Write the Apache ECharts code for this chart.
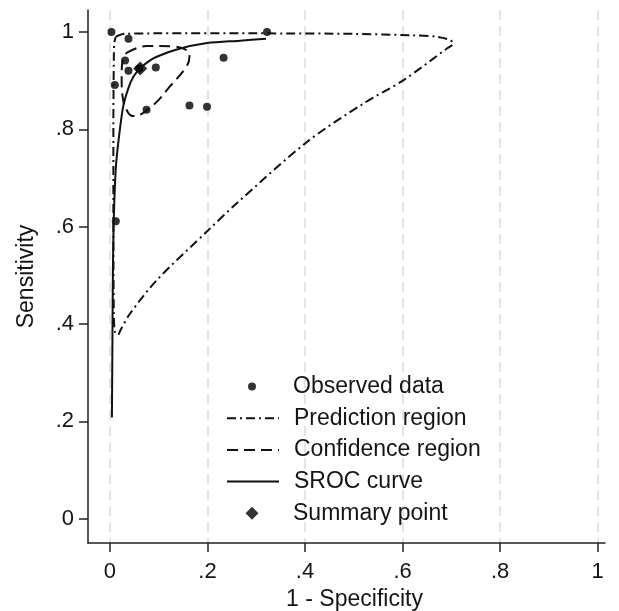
<!DOCTYPE html>
<html>
<head>
<meta charset="utf-8">
<script src="https://cdn.jsdelivr.net/npm/echarts@6/dist/echarts.min.js"></script>
<style>
html,body{margin:0;padding:0;background:#fff;}
#chart{width:619px;height:611px;}
</style>
</head>
<body>
<div id="chart"></div>
<script>
// Tick labels
const xTicks = [0, 0.2, 0.4, 0.6, 0.8, 1];
const yTicks = [0, 0.2, 0.4, 0.6, 0.8, 1];

// Legend entries (top to bottom)
const legendNames = ['Observed data', 'Prediction region', 'Confidence region', 'SROC curve', 'Summary point'];

// Observed data (1 - specificity, sensitivity)
const observedX = [0.003, 0.038, 0.031, 0.038, 0.094, 0.010, 0.075, 0.163, 0.199, 0.233, 0.322, 0.012, 0.060];
const observedY = [1.000, 0.986, 0.941, 0.920, 0.927, 0.891, 0.840, 0.849, 0.846, 0.947, 1.000, 0.611, 0.925];

// Summary point
const summaryX = [0.062];
const summaryY = [0.925];

// SROC curve
const srocX = [0.004, 0.005, 0.006, 0.008, 0.012, 0.018, 0.027, 0.038, 0.048, 0.062, 0.080, 0.096, 0.137, 0.199, 0.267, 0.320];
const srocY = [0.208, 0.350, 0.500, 0.620, 0.720, 0.780, 0.846, 0.885, 0.908, 0.925, 0.940, 0.949, 0.964, 0.977, 0.982, 0.986];

// Confidence region
const confX = [0.034, 0.075, 0.130, 0.158, 0.163, 0.157, 0.123, 0.089, 0.048, 0.038, 0.027, 0.024, 0.025, 0.034];
const confY = [0.957, 0.971, 0.970, 0.962, 0.949, 0.929, 0.888, 0.850, 0.827, 0.833, 0.860, 0.908, 0.935, 0.957];

// Prediction region
const predX = [0.012, 0.030, 0.100, 0.300, 0.500, 0.620, 0.671, 0.698, 0.704, 0.691, 0.602, 0.520, 0.404, 0.260, 0.202, 0.096, 0.041, 0.022, 0.016, 0.010, 0.008, 0.007, 0.007, 0.008, 0.009, 0.012];
const predY = [0.990, 0.996, 0.997, 0.997, 0.996, 0.993, 0.990, 0.983, 0.976, 0.966, 0.901, 0.853, 0.774, 0.648, 0.593, 0.490, 0.421, 0.388, 0.377, 0.385, 0.420, 0.600, 0.800, 0.950, 0.978, 0.990];

const zip = (a, b) => a.map((v, i) => [v, b[i]]);
const fmt = v => (v === 0 ? '0' : v === 1 ? '1' : String(v).replace(/^0/, ''));
const FONT = 'Liberation Sans, Arial, Helvetica, sans-serif';
const TXT = '#151515';
const FS = 22;
const FS_T = 23;

// legend layout (one component per row, so icons can differ in size)
const rowTop = 373.5, rowStep = 31.7, textLeft = 293, iconCenter = 252;
const iconSizes = [[8, 8], [52, 12], [52, 12], [52, 12], [13, 13]];
const legends = legendNames.map((name, i) => {
  const [w, h] = iconSizes[i];
  const left = iconCenter - w / 2;
  const item = {name};
  if (i === 0) item.icon = 'circle';
  if (i === 4) item.icon = 'diamond';
  if (i >= 1 && i <= 3) item.itemStyle = {opacity: 0};
  return {
    orient: 'vertical', left: left, top: rowTop + i * rowStep, padding: 0,
    itemWidth: w, itemHeight: h, selectedMode: false,
    textStyle: {fontFamily: FONT, fontSize: FS_T, color: TXT, lineHeight: 26,
      padding: [0, 0, 0, textLeft - (left + w + 5)]},
    data: [item]
  };
});

const chart = echarts.init(document.getElementById('chart'), null, {renderer: 'canvas'});
chart.setOption({
  animation: false,
  backgroundColor: '#fff',
  grid: {left: 88, top: 10, right: 14, bottom: 68, containLabel: false, outerBoundsMode: 'none'},
  xAxis: {
    type: 'value', min: -0.045, max: 1.015,
    name: '1 - Specificity', nameLocation: 'middle', nameGap: 45,
    nameTextStyle: {fontFamily: FONT, fontSize: FS_T, color: TXT, padding: [0, 0, 0, 16]},
    axisLine: {show: true, onZero: false, lineStyle: {color: '#222', width: 1.5}},
    axisTick: {show: true, customValues: xTicks, length: 9, lineStyle: {color: '#222', width: 1.5}},
    axisLabel: {customValues: xTicks, formatter: fmt, margin: 18, fontFamily: FONT, fontSize: FS, color: TXT},
    splitLine: {show: true, lineStyle: {color: '#dcdcdc', type: [10, 6], width: 1.5}}
  },
  yAxis: {
    type: 'value', min: -0.05, max: 1.045,
    name: 'Sensitivity', nameLocation: 'middle', nameGap: 50,
    nameTextStyle: {fontFamily: FONT, fontSize: FS_T, color: TXT},
    axisLine: {show: true, onZero: false, lineStyle: {color: '#222', width: 1.5}},
    axisTick: {show: true, customValues: yTicks, length: 9, lineStyle: {color: '#222', width: 1.5}},
    axisLabel: {customValues: yTicks, formatter: fmt, margin: 14, fontFamily: FONT, fontSize: FS, color: TXT},
    splitLine: {show: false}
  },
  legend: legends,
  series: [
    {
      name: 'Prediction region', type: 'line', data: zip(predX, predY), smooth: 0.3,
      symbol: 'none', lineStyle: {color: '#111', width: 2, type: [9, 4, 2, 4]}, itemStyle: {color: '#111'}
    },
    {
      name: 'Confidence region', type: 'line', data: zip(confX, confY), smooth: 0.4,
      symbol: 'none', lineStyle: {color: '#111', width: 2, type: [11, 6]}, itemStyle: {color: '#111'}
    },
    {
      name: 'SROC curve', type: 'line', data: zip(srocX, srocY), smooth: 0.3,
      symbol: 'none', lineStyle: {color: '#111', width: 2}, itemStyle: {color: '#111'}
    },
    {
      name: 'Observed data', type: 'scatter', data: zip(observedX, observedY),
      symbol: 'circle', symbolSize: 8, itemStyle: {color: '#000'}
    },
    {
      name: 'Summary point', type: 'scatter', data: zip(summaryX, summaryY),
      symbol: 'diamond', symbolSize: 14, itemStyle: {color: '#000'}
    }
  ]
});
</script>
</body>
</html>
